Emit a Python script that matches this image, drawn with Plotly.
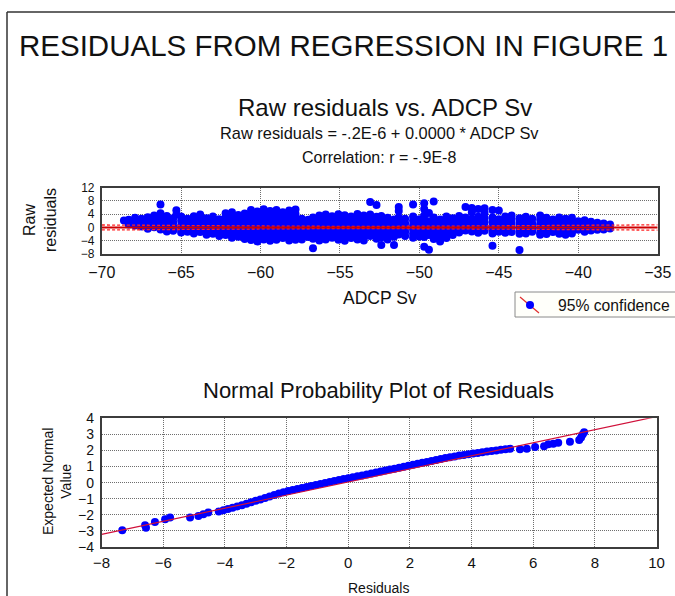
import plotly.graph_objects as go

# ---------------- Raw residuals vs. ADCP Sv ----------------
# ADCP Sv column positions and the residuals observed in each column
sv_columns = [
    -68.6, -68.3, -67.9, -67.5, -67.1, -66.7, -66.3, -65.9, -65.5, -65.3,
    -65.0, -64.6, -64.2, -63.8, -63.4, -63.0, -62.6, -62.2, -61.8, -61.4,
    -61.0, -60.6, -60.2, -59.8, -59.4, -59.0, -58.6, -58.2, -57.8, -57.4,
    -57.0, -56.7, -56.3, -55.9, -55.5, -55.1, -54.7, -54.3, -53.9, -53.5,
    -53.1, -52.7, -52.4, -52.0, -51.6, -51.3, -50.9, -50.4, -50.0, -49.7,
    -49.4, -49.1, -48.7, -48.3, -47.9, -47.5, -47.1, -46.7, -46.3, -45.9,
    -45.4, -45.0, -44.6, -44.2, -43.7, -43.3, -42.9, -42.4, -42.0, -41.6,
    -41.2, -40.8, -40.4, -40.0, -39.6, -39.2, -38.8, -38.4, -38.0,
]
resid_columns = [
    [2.1], [2.3, 0.9], [1.9, 0.6, 2.9], [2.6, 1.4, 0.3], [3.1, 1.8, 0.6, -0.4],
    [2.4, 1.2, 0.1, 3.6], [6.9, 4.3, 3.0, 1.7, 0.4, -0.6], [3.5, 2.2, 0.9, -0.3, -1.2],
    [2.8, 1.5, 0.2, -1.0], [5.2, 3.9],
    [3.3, 2.0, 0.6, -0.6, -1.5], [2.6, 1.3, 0.0, -1.3], [3.4, 2.1, 0.8, -0.5, -1.8],
    [3.9, 2.6, 1.2, -0.1, -1.4], [2.8, 1.6, 0.3, -1.0, -2.2], [3.3, 2.0, 0.6, -0.7, -1.9],
    [2.5, 1.2, -0.1, -1.4, -2.6], [4.3, 3.0, 1.7, 0.3, -1.0, -2.3],
    [4.6, 3.4, 2.1, 0.7, -0.6, -1.9, -3.1], [3.8, 2.5, 1.1, -0.2, -1.5, -2.8],
    [4.2, 2.9, 1.6, 0.2, -1.1, -2.4, -3.5], [5.3, 4.0, 2.6, 1.3, 0.0, -1.3, -2.6, -3.8],
    [4.8, 3.5, 2.2, 0.9, -0.4, -1.7, -3.0, -4.2], [5.5, 4.1, 2.8, 1.5, 0.2, -1.1, -2.4, -3.6],
    [5.0, 3.7, 2.4, 1.1, -0.2, -1.5, -2.9, -4.0], [5.3, 4.0, 2.6, 1.3, 0.0, -1.3, -2.6, -3.7],
    [4.6, 3.3, 2.0, 0.7, -0.6, -1.9, -3.2], [5.1, 3.8, 2.4, 1.1, -0.2, -1.5, -2.8, -3.9],
    [5.4, 4.1, 2.7, 1.4, 0.1, -1.2, -2.5, -3.7], [2.6, 1.3, 0.0, -1.3, -2.6, -3.6],
    [2.3, 1.0, -0.3, -1.6, -2.9], [-6.3, 3.0, 1.7, 0.4, -0.9, -2.2, -3.4],
    [3.6, 2.3, 1.0, -0.3, -1.6, -2.9, -3.9], [3.9, 2.6, 1.3, 0.0, -1.3, -2.6, -3.6],
    [3.4, 2.1, 0.8, -0.5, -1.8, -3.1], [4.0, 2.7, 1.4, 0.1, -1.2, -2.5, -3.7],
    [3.7, 2.4, 1.1, -0.2, -1.5, -2.8, -4.0], [3.3, 2.0, 0.7, -0.6, -1.9, -3.2],
    [4.1, 2.8, 1.5, 0.2, -1.1, -2.4, -3.6], [3.6, 2.3, 1.0, -0.3, -1.6, -2.9, -3.9],
    [7.7, 3.9, 2.6, 1.3, 0.0, -1.3, -2.6], [6.8, 3.2, 1.9, 0.6, -0.7, -2.0, -3.4],
    [-5.3, 3.5, 2.2, 0.9, -0.4, -1.7, -3.0], [2.9, 1.6, 0.3, -1.0, -2.3, -3.6],
    [-5.3, 2.4, 1.1, -0.2, -1.5, -2.8], [6.2, 5.0, 3.1, 1.8, 0.5, -0.8, -2.1],
    [2.6, 1.3, 0.0, -1.3, -2.6], [6.9, 3.3, 2.0, 0.7, -0.6, -1.9, -3.1],
    [2.5, 1.2, -0.1, -1.4, -2.7], [7.3, 5.6, -5.8, 3.6, 2.3, 1.0, -0.3, -1.6, -2.9],
    [-6.7, 4.4, 1.9, 0.5, -0.9, -2.3], [7.8, 3.0, 1.7, 0.4, -0.9, -2.2, -3.5],
    [2.4, 1.1, -0.2, -1.5, -2.8, -4.2], [3.3, 2.0, 0.7, -0.6, -1.9, -3.2],
    [2.8, 1.5, 0.2, -1.1, -2.3], [3.5, 2.2, 0.9, -0.4, -1.5],
    [6.2, 3.0, 1.7, 0.4, -0.9], [5.9, 4.6, 2.6, 1.3, 0.0, -1.2],
    [5.6, 3.2, 1.9, 0.6, -0.7, -1.6], [5.8, 4.4, 2.8, 1.5, 0.2, -1.0],
    [5.3, -5.5, 3.0, 1.7, 0.4, -0.9, -1.8], [5.1, 2.5, 1.2, -0.1, -1.3],
    [3.3, 2.0, 0.7, -0.6, -1.6], [3.6, 2.3, 1.0, -0.3, -1.4],
    [-6.8, 2.8, 1.5, 0.2, -1.1, -1.9], [3.2, 1.9, 0.6, -0.7, -1.8],
    [2.6, 1.3, 0.0, -1.3], [3.6, 2.3, 1.0, -0.3, -1.6, -2.2],
    [2.9, 1.6, 0.3, -1.0, -2.0], [2.4, 1.1, -0.2, -1.4],
    [3.0, 1.7, 0.4, -0.9, -1.9], [2.6, 1.3, 0.0, -1.3, -2.2],
    [2.9, 1.6, 0.3, -1.0, -1.8], [1.9, 0.6, -0.7], [2.2, 0.9, -0.4, -1.3],
    [1.7, 0.4, -0.9], [1.4, 0.2, -0.7], [1.2, 0.0, -0.6], [0.9, -0.3],
]

# Regression of the residuals on ADCP Sv, and its 95% confidence half-width
reg_intercept = -0.2e-6
reg_slope = 0.0
band_sv = [-70, -65, -60, -55, -50, -45, -40, -35]
band_half = [0.75, 0.6, 0.45, 0.35, 0.38, 0.5, 0.65, 0.8]

sv_ticks = [-70, -65, -60, -55, -50, -45, -40, -35]
resid_ticks = [-8, -4, 0, 4, 8, 12]

# ---------------- Normal probability plot ----------------
npp_resid = [
    -7.33, -6.59, -6.56, -6.27, -5.94, -5.78, -5.13, -4.86, -4.70, -4.54,
    -4.20, -4.05, -3.90, -3.75, -3.60, -3.45, -3.30, -3.15, -3.00, -2.85,
    -2.70, -2.55, -2.40, -2.25, -2.10, -1.95, -1.80, -1.65, -1.50, -1.35,
    -1.20, -1.05, -0.90, -0.75, -0.60, -0.45, -0.30, -0.15, 0.00, 0.15,
    0.30, 0.45, 0.60, 0.75, 0.90, 1.05, 1.20, 1.35, 1.50, 1.65,
    1.80, 1.95, 2.10, 2.25, 2.40, 2.55, 2.70, 2.85, 3.00, 3.15,
    3.30, 3.45, 3.60, 3.75, 3.90, 4.05, 4.20, 4.35, 4.50, 4.65,
    4.80, 4.95, 5.10, 5.25,
    5.57, 5.79, 6.06, 6.35, 6.49, 6.65, 6.81, 7.19, 7.49, 7.55, 7.60, 7.65,
]
npp_expected = [
    -2.96, -2.65, -2.80, -2.45, -2.28, -2.17, -2.17, -2.07, -1.97, -1.86,
    -1.80, -1.72, -1.64, -1.56, -1.48, -1.40, -1.31, -1.22, -1.13, -1.04,
    -0.95, -0.86, -0.77, -0.68, -0.60, -0.52, -0.45, -0.39, -0.33, -0.27,
    -0.21, -0.15, -0.08, -0.02, 0.04, 0.10, 0.16, 0.22, 0.28, 0.34,
    0.40, 0.45, 0.51, 0.57, 0.63, 0.69, 0.75, 0.81, 0.87, 0.93,
    0.99, 1.05, 1.11, 1.17, 1.23, 1.29, 1.35, 1.41, 1.47, 1.53,
    1.58, 1.63, 1.68, 1.72, 1.77, 1.81, 1.85, 1.89, 1.93, 1.97,
    2.00, 2.04, 2.07, 2.10,
    2.07, 2.11, 2.21, 2.27, 2.38, 2.42, 2.48, 2.55, 2.65, 2.80, 3.00, 3.14,
]
npp_fit_intercept = 0.04
npp_fit_slope = 0.4067

npp_x_ticks = [-8, -6, -4, -2, 0, 2, 4, 6, 8, 10]
npp_y_ticks = [-4, -3, -2, -1, 0, 1, 2, 3, 4]

# ---------------- figure ----------------
W, H = 675, 596
FONT = "Liberation Sans, Arial, sans-serif"
BLUE = "#0000ff"


def fx(p):
    return p / W


def fy(p):
    return 1 - p / H


adcp_sv = [x for x, ys in zip(sv_columns, resid_columns) for _ in ys]
raw_resid = [y for ys in resid_columns for y in ys]

fig = go.Figure()

fig.add_trace(go.Scatter(
    x=adcp_sv, y=raw_resid, mode="markers", xaxis="x", yaxis="y",
    marker=dict(color=BLUE, size=8, line=dict(width=0)), showlegend=False,
    hoverinfo="skip"))

reg_x = [sv_ticks[0], sv_ticks[-1]]
reg_y = [reg_intercept + reg_slope * v for v in reg_x]
band_mid = [reg_intercept + reg_slope * v for v in band_sv]
for sign in (1, -1):
    fig.add_trace(go.Scatter(
        x=band_sv, y=[m + sign * h for m, h in zip(band_mid, band_half)],
        mode="lines", xaxis="x", yaxis="y",
        line=dict(color="#ff2020", width=1.3, dash="3px,2px", shape="spline"),
        showlegend=False, hoverinfo="skip"))
fig.add_trace(go.Scatter(
    x=reg_x, y=reg_y, mode="lines", xaxis="x", yaxis="y",
    line=dict(color="#cc0000", width=2), showlegend=False, hoverinfo="skip"))

fig.add_trace(go.Scatter(
    x=npp_resid, y=npp_expected, mode="markers", xaxis="x2", yaxis="y2",
    marker=dict(color=BLUE, size=8, line=dict(width=0)), showlegend=False,
    hoverinfo="skip"))
fit_x = [npp_x_ticks[0], npp_x_ticks[-1]]
fig.add_trace(go.Scatter(
    x=fit_x, y=[npp_fit_intercept + npp_fit_slope * v for v in fit_x],
    mode="lines", xaxis="x2", yaxis="y2", line=dict(color="#d0103a", width=1.2),
    showlegend=False, hoverinfo="skip"))

grid = dict(showgrid=True, gridcolor="#6e6e6e", gridwidth=1, griddash="1px,1px",
            zeroline=False, showline=True, mirror=True, linecolor="#3c3c3c",
            linewidth=1.5, ticks="", fixedrange=True, automargin=False,
            tickcolor="#111111")

fig.update_layout(
    template="none",
    width=W, height=H, margin=dict(l=0, r=0, t=0, b=0, pad=0, autoexpand=False),
    paper_bgcolor="white", plot_bgcolor="white",
    font=dict(family=FONT, color="#111111"),
    showlegend=False,
    xaxis=dict(domain=[fx(101.7), fx(657.7)], range=[-70, -35], tickvals=sv_ticks,
               anchor="y", tickfont=dict(size=16), ticklabelstandoff=3, **grid),
    yaxis=dict(domain=[fy(254), fy(187.7)], range=[-8, 12], tickvals=resid_ticks,
               anchor="x", tickfont=dict(size=12), ticklabelstandoff=3, **grid),
    xaxis2=dict(domain=[fx(101.6), fx(656.6)], range=[-8, 10], tickvals=npp_x_ticks,
                anchor="y2", tickfont=dict(size=15), ticklabelstandoff=1, **grid),
    yaxis2=dict(domain=[fy(547), fy(418.3)], range=[-4, 4], tickvals=npp_y_ticks,
                anchor="x2", tickfont=dict(size=14), ticklabelstandoff=3, **grid),
)


def label(text, x, y, size, angle=0, xanchor="center"):
    fig.add_annotation(text=text, x=fx(x), y=fy(y), xref="paper", yref="paper",
                       xanchor=xanchor, yanchor="middle", showarrow=False,
                       textangle=angle, font=dict(size=size, family=FONT, color="#111111"))


label("RESIDUALS FROM REGRESSION IN FIGURE 1", 343, 45, 29.5)
label("Raw residuals vs. ADCP Sv", 385, 107, 24)
label("Raw residuals = -.2E-6 + 0.0000 * ADCP Sv", 379, 133, 16.4)
label("Correlation: r = -.9E-8", 379, 157, 16)
label("ADCP Sv", 380, 298, 17.5)
label("Raw<br>residuals", 40, 220, 16, angle=-90)
label("Normal Probability Plot of Residuals", 378, 390, 22)
label("Residuals", 378, 588, 14)
label("Expected Normal<br>Value", 57, 482, 14, angle=-90)
label("95% confidence", 556, 305, 15.7, xanchor="left")

# outer frame of the page
fig.add_shape(type="line", xref="paper", yref="paper", x0=fx(7), x1=1.0, y0=fy(12), y1=fy(12),
              line=dict(color="#333333", width=1.5))
fig.add_shape(type="line", xref="paper", yref="paper", x0=fx(7), x1=fx(7), y0=fy(12), y1=0,
              line=dict(color="#333333", width=1.5))

# legend box with its symbol
fig.add_shape(type="rect", xref="paper", yref="paper", x0=fx(515), x1=fx(690), y0=fy(317), y1=fy(292),
              line=dict(color="#8a8a8a", width=1), fillcolor="#fffffa")
fig.add_shape(type="line", xref="paper", yref="paper", x0=fx(520), x1=fx(539), y0=fy(297), y1=fy(313),
              line=dict(color="#e03030", width=1.2))
fig.add_shape(type="circle", xref="paper", yref="paper", x0=fx(526), x1=fx(534), y0=fy(309), y1=fy(301),
              line=dict(width=0), fillcolor=BLUE)

fig.write_html("out.html")
